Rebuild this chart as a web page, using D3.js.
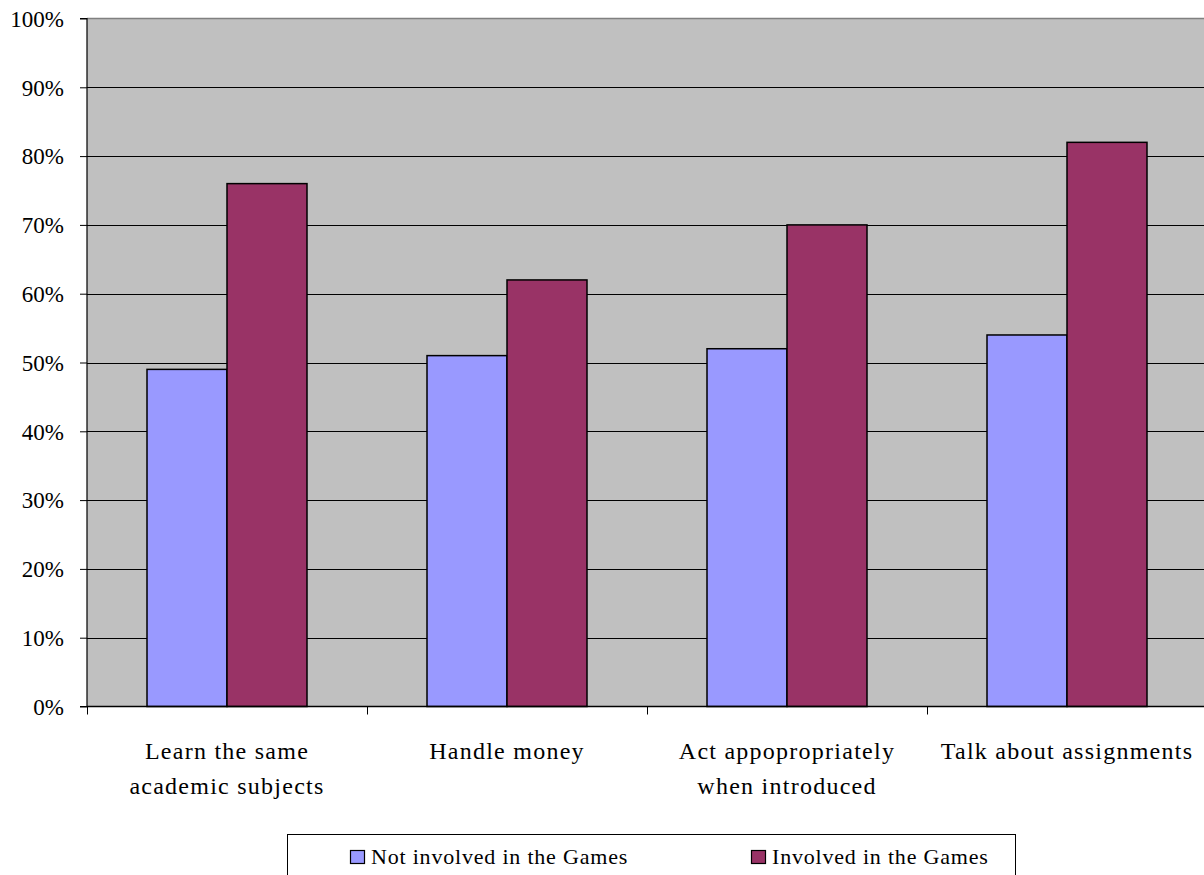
<!DOCTYPE html>
<html>
<head>
<meta charset="utf-8">
<script src="https://cdn.jsdelivr.net/npm/d3@7"></script>
<style>
  html, body { margin: 0; padding: 0; background: #fff; }
  svg { display: block; }
</style>
</head>
<body>
<svg id="chart" width="1204" height="875"></svg>
<script>
// Share of students by skill, split by participation in the Games
const categories = [
  ["Learn the same", "academic subjects"],
  ["Handle money"],
  ["Act appopropriately", "when introduced"],
  ["Talk about assignments"]
];
const seriesNames = ["Not involved in the Games", "Involved in the Games"];
const notInvolved = [0.49, 0.51, 0.52, 0.54];
const involved = [0.76, 0.62, 0.70, 0.82];
const seriesColors = ["#9999ff", "#993366"];
const yTicks = [0, 0.1, 0.2, 0.3, 0.4, 0.5, 0.6, 0.7, 0.8, 0.9, 1.0];

const FONT = "Liberation Serif";

const svg = d3.select("#chart")
  .attr("font-family", FONT);
const plot = { left: 87, top: 18.5, right: 1207, bottom: 706.5 };

const x = d3.scaleBand()
  .domain(d3.range(categories.length))
  .range([plot.left, plot.right])
  .paddingInner(0).paddingOuter(0);

const xInner = d3.scaleBand()
  .domain([0, 1])
  .range([0, x.bandwidth()])
  .paddingOuter(0.75)
  .paddingInner(0);

const y = d3.scaleLinear().domain([0, 1]).range([plot.bottom, plot.top]);

// plot background
svg.append("rect")
  .attr("x", plot.left).attr("y", plot.top)
  .attr("width", plot.right - plot.left).attr("height", plot.bottom - plot.top)
  .attr("fill", "#c0c0c0");

// horizontal gridlines
svg.append("g")
  .selectAll("line")
  .data(yTicks.slice(1, -1))
  .join("line")
  .attr("x1", plot.left).attr("x2", plot.right)
  .attr("y1", d => Math.round(y(d)) + 0.5).attr("y2", d => Math.round(y(d)) + 0.5)
  .attr("stroke", "#000").attr("stroke-width", 1);

// top border of plot area
svg.append("line")
  .attr("x1", plot.left).attr("x2", plot.right)
  .attr("y1", plot.top).attr("y2", plot.top)
  .attr("stroke", "#808080").attr("stroke-width", 1.5);

// bars
const groups = svg.append("g")
  .selectAll("g")
  .data(categories.map((c, i) => [notInvolved[i], involved[i]]))
  .join("g")
  .attr("transform", (d, i) => `translate(${x(i)},0)`);

groups.selectAll("rect")
  .data(d => d.map((v, j) => ({ v, j })))
  .join("rect")
  .attr("x", d => xInner(d.j))
  .attr("width", xInner.bandwidth())
  .attr("y", d => y(d.v))
  .attr("height", d => y(0) - y(d.v))
  .attr("fill", d => seriesColors[d.j])
  .attr("stroke", "#000")
  .attr("stroke-width", 1.5);

// y axis
const yAxis = d3.axisLeft(y)
  .tickValues(yTicks)
  .tickFormat(d3.format(".0%"))
  .tickSize(7)
  .tickPadding(16);

const yg = svg.append("g")
  .attr("transform", `translate(${plot.left},0)`)
  .call(yAxis)
  .attr("font-family", FONT)
  .attr("font-size", 23);
yg.select(".domain").attr("stroke", "#000").attr("stroke-width", 1.2)
  .attr("d", `M-7,${plot.top}H0V${plot.bottom}H-7`);
yg.selectAll(".tick line").attr("stroke", "#000");
yg.selectAll(".tick text")
  .attr("font-family", FONT)
  .attr("font-size", 23)
  .attr("dy", "0.34em")
  .attr("fill", "#000");

// x axis baseline and category boundary ticks
svg.append("line")
  .attr("x1", plot.left).attr("x2", plot.right)
  .attr("y1", plot.bottom).attr("y2", plot.bottom)
  .attr("stroke", "#000").attr("stroke-width", 1.5);

svg.append("g")
  .selectAll("line")
  .data(d3.range(categories.length + 1))
  .join("line")
  .attr("x1", i => x.step() * i + plot.left + 0.5)
  .attr("x2", i => x.step() * i + plot.left + 0.5)
  .attr("y1", plot.bottom).attr("y2", plot.bottom + 8)
  .attr("stroke", "#000").attr("stroke-width", 1);

// category labels, one text per line
const labelRows = categories.flatMap((lines, i) =>
  lines.map((t, k) => ({ t, i, k })));

svg.append("g")
  .selectAll("text")
  .data(labelRows)
  .join("text")
  .attr("x", d => x(d.i) + x.bandwidth() / 2)
  .attr("y", d => 759 + d.k * 35)
  .attr("text-anchor", "middle")
  .attr("font-family", FONT)
  .attr("font-size", 24)
  .attr("letter-spacing", 1.25)
  .attr("fill", "#000")
  .text(d => d.t);

// legend
const legend = svg.append("g");
legend.append("rect")
  .attr("x", 287.5).attr("y", 834.5)
  .attr("width", 728).attr("height", 60)
  .attr("fill", "#fff").attr("stroke", "#000").attr("stroke-width", 1);

const legendX = [350, 751];
const items = legend.selectAll("g.item")
  .data(seriesNames)
  .join("g")
  .attr("class", "item")
  .attr("transform", (d, i) => `translate(${legendX[i]},0)`);

items.append("rect")
  .attr("x", 0.5).attr("y", 850.5)
  .attr("width", 14).attr("height", 13)
  .attr("fill", (d, i) => seriesColors[i])
  .attr("stroke", "#000").attr("stroke-width", 1.2);

items.append("text")
  .attr("x", 21).attr("y", 864)
  .attr("font-family", FONT)
  .attr("font-size", 22)
  .attr("letter-spacing", 0.8)
  .attr("fill", "#000")
  .text(d => d);
</script>
</body>
</html>
